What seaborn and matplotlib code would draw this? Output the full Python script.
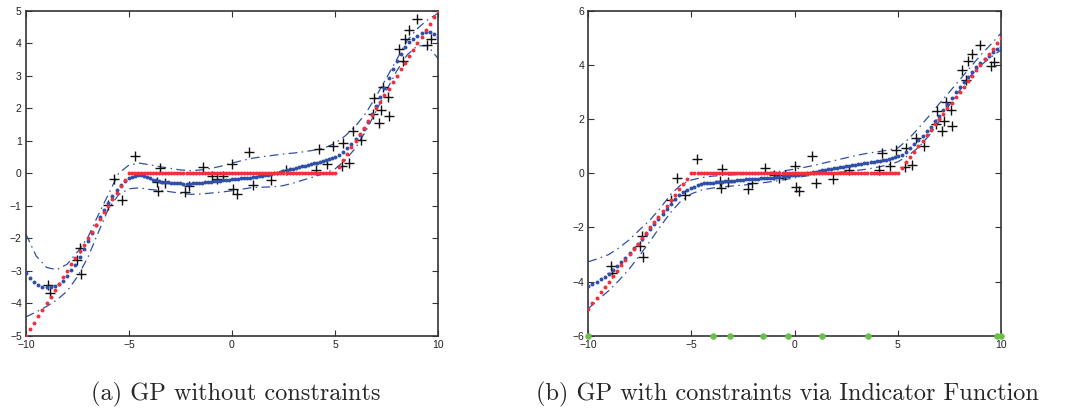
import numpy as np
import pandas as pd
import matplotlib
matplotlib.use("Agg")
import matplotlib.pyplot as plt
import seaborn as sns

# ---------------- data ----------------
# x grid of the dotted curves (denser in the flat middle part)
x_dots = np.concatenate([np.linspace(-10, -5, 26),
                         np.linspace(-5, 5, 69)[1:-1],
                         np.linspace(5, 10, 26)])

# true function (red dots)
red_left = [-5.0, -4.8, -4.6, -4.4, -4.2, -4.0, -3.8, -3.6, -3.4, -3.2, -3.0, -2.8, -2.6,
            -2.4, -2.2, -2.0, -1.8, -1.6, -1.4, -1.2, -1.0, -0.8, -0.6, -0.4, -0.2, 0.0]
red_mid = [0.0] * 67
red_right = [0.0, 0.2, 0.4, 0.6, 0.8, 1.0, 1.2, 1.4, 1.6, 1.8, 2.0, 2.2, 2.4,
             2.6, 2.8, 3.0, 3.2, 3.4, 3.6, 3.8, 4.0, 4.2, 4.4, 4.6, 4.8, 5.0]
red_true = red_left + red_mid + red_right

# GP mean without constraints (blue dots, panel a)
mean_a = [-3.07, -3.21, -3.34, -3.43, -3.49, -3.51, -3.51, -3.48, -3.41, -3.31, -3.16, -2.99, -2.81,
          -2.59, -2.34, -2.09, -1.84, -1.59, -1.35, -1.12, -0.91, -0.70, -0.51, -0.36, -0.24, -0.15,
          -0.11, -0.08, -0.06, -0.07, -0.09, -0.12, -0.16, -0.20, -0.22, -0.24, -0.26, -0.27, -0.28,
          -0.29, -0.30, -0.31, -0.31, -0.32, -0.32, -0.32, -0.31, -0.31, -0.30, -0.29, -0.28, -0.27,
          -0.26, -0.25, -0.24, -0.23, -0.22, -0.21, -0.20, -0.19, -0.18, -0.17, -0.16, -0.15, -0.15,
          -0.14, -0.13, -0.12, -0.10, -0.09, -0.07, -0.05, -0.03, 0.00, 0.02, 0.05, 0.08, 0.10,
          0.12, 0.14, 0.17, 0.19, 0.21, 0.23, 0.25, 0.28, 0.30, 0.32, 0.35, 0.37, 0.40, 0.43, 0.47,
          0.50, 0.57, 0.65, 0.77, 0.91, 1.04, 1.18, 1.35, 1.57, 1.82, 2.07, 2.34, 2.63,
          2.93, 3.20, 3.45, 3.68, 3.87, 4.04, 4.14, 4.23, 4.30, 4.33, 4.33, 4.28, 4.20]

# GP mean with constraints (blue dots, panel b)
mean_b = [-4.15, -4.09, -4.01, -3.92, -3.82, -3.71, -3.57, -3.44, -3.27, -3.12, -2.95, -2.78, -2.60,
          -2.42, -2.24, -2.06, -1.88, -1.70, -1.51, -1.32, -1.12, -0.96, -0.80, -0.70, -0.61, -0.55,
          -0.50, -0.45, -0.41, -0.38, -0.37, -0.36, -0.35, -0.34, -0.32, -0.31, -0.30, -0.29, -0.28,
          -0.27, -0.26, -0.25, -0.24, -0.23, -0.22, -0.21, -0.21, -0.20, -0.19, -0.18, -0.17, -0.17,
          -0.16, -0.15, -0.14, -0.12, -0.11, -0.09, -0.08, -0.06, -0.05, -0.03, -0.02, 0.00, 0.02,
          0.04, 0.06, 0.08, 0.10, 0.12, 0.14, 0.16, 0.18, 0.20, 0.22, 0.24, 0.26, 0.28,
          0.29, 0.31, 0.33, 0.35, 0.36, 0.38, 0.40, 0.42, 0.44, 0.46, 0.48, 0.50, 0.53, 0.56, 0.60,
          0.62, 0.69, 0.79, 0.92, 1.07, 1.22, 1.37, 1.54, 1.72, 1.92, 2.13, 2.34, 2.56,
          2.77, 2.98, 3.19, 3.38, 3.56, 3.74, 3.92, 4.07, 4.21, 4.34, 4.46, 4.57, 4.67]

# confidence band grid (dash-dot lines)
x_band = np.arange(-10, 10.01, 0.5)
upper_a = [-1.88, -2.55, -2.90, -2.97, -2.80, -2.42, -1.98, -1.30, -0.65, 0.00, 0.25, 0.31, 0.26,
           0.20, 0.15, 0.10, 0.08, 0.10, 0.15, 0.22, 0.31, 0.39, 0.46, 0.51, 0.55, 0.59, 0.62,
           0.66, 0.71, 0.78, 0.92, 1.15, 1.45, 1.85, 2.37, 2.93, 3.50, 4.08, 4.45, 4.72, 4.92]
lower_a = [-4.42, -4.27, -4.10, -3.90, -3.63, -3.18, -2.60, -1.84, -1.10, -0.66, -0.48, -0.45, -0.50,
           -0.53, -0.57, -0.62, -0.65, -0.64, -0.61, -0.58, -0.54, -0.49, -0.44, -0.43, -0.42, -0.38,
           -0.30, -0.20, -0.11, 0.00, 0.13, 0.40, 0.78, 1.30, 1.92, 2.55, 3.15, 3.64, 3.92, 3.92, 3.53]
upper_b = [-3.27, -3.15, -3.00, -2.75, -2.45, -2.08, -1.72, -1.28, -0.78, -0.42, -0.25, -0.16, -0.11,
           -0.08, -0.06, -0.05, -0.03, 0.00, 0.04, 0.09, 0.15, 0.22, 0.30, 0.39, 0.48, 0.57, 0.66,
           0.73, 0.79, 0.85, 0.93, 1.25, 1.66, 2.10, 2.56, 3.00, 3.45, 3.90, 4.35, 4.75, 5.17]
lower_b = [-5.00, -4.66, -4.33, -3.95, -3.52, -3.03, -2.50, -1.96, -1.44, -1.02, -0.76, -0.62, -0.55,
           -0.51, -0.47, -0.44, -0.40, -0.35, -0.30, -0.24, -0.17, -0.11, -0.06, -0.02, 0.02, 0.06,
           0.10, 0.15, 0.22, 0.30, 0.42, 0.65, 0.95, 1.38, 1.90, 2.52, 3.06, 3.58, 3.97, 4.28, 4.55]

# noisy observations (black crosses)
obs_x = [-8.92, -8.83, -7.38, -7.51, -7.35, -6.00, -5.71, -5.32, -4.71, -3.50, -3.63, -3.25, -3.58,
         -2.28, -2.09, -1.42, -0.99, -0.74, -0.45, 0.01, 0.06, 0.23, 0.83, 1.04, 1.88, 2.61, 4.10,
         4.24, 4.60, 4.89, 5.40, 5.35, 5.67, 5.89, 6.27, 6.83, 6.90, 7.16, 7.25, 7.32, 7.58, 7.64,
         8.11, 8.32, 8.42, 8.59, 8.97, 9.49, 9.68]
obs_y = [-3.44, -3.70, -2.31, -2.67, -3.10, -0.98, -0.18, -0.82, 0.53, 0.15, -0.28, -0.31, -0.55,
         -0.57, -0.38, 0.19, -0.08, -0.19, -0.08, 0.27, -0.50, -0.64, 0.64, -0.35, -0.21, 0.10, 0.10,
         0.74, 0.28, 0.84, 0.92, 0.23, 0.30, 1.30, 1.02, 1.81, 2.30, 1.55, 1.94, 2.64, 2.34, 1.76,
         3.81, 3.45, 4.14, 4.41, 4.74, 3.94, 4.12]

# constraint locations (green dots, panel b)
constr_x = [-10.0, -3.94, -3.13, -1.51, -0.30, 1.32, 3.53, 9.80, 10.0]

xticks = [-10, -5, 0, 5, 10]
yticks_a = [-5, -4, -3, -2, -1, 0, 1, 2, 3, 4, 5]
yticks_b = [-6, -4, -2, 0, 2, 4, 6]
captions = ["(a) GP without constraints", "(b) GP with constraints via Indicator Function"]

# ---------------- style ----------------
sns.set_style("white")
plt.rcParams["font.family"] = ["Liberation Sans", "DejaVu Sans"]
plt.rcParams["axes.unicode_minus"] = True

BLUE = "#3050a8"
RED = "#f0303c"
GREEN = "#6cc04a"
AXC = "#333333"

fig = plt.figure(figsize=(10.68, 4.13), dpi=100)
axA = fig.add_axes([0.0243, 0.1872, 0.3858, 0.7869])
axB = fig.add_axes([0.5508, 0.1872, 0.3865, 0.7869])

dash = (0, (7, 3.5, 1.2, 3.5))


def panel(ax, mean, up, lo, yt):
    dfm = pd.DataFrame({"x": x_dots, "y": mean})
    dft = pd.DataFrame({"x": x_dots, "y": red_true})
    dfb = pd.DataFrame({"x": x_band, "up": up, "lo": lo})
    dfo = pd.DataFrame({"x": obs_x, "y": obs_y})
    sns.lineplot(data=dfb, x="x", y="up", ax=ax, color=BLUE, lw=0.9, linestyle=dash, sort=True)
    sns.lineplot(data=dfb, x="x", y="lo", ax=ax, color=BLUE, lw=0.9, linestyle=dash, sort=True)
    sns.scatterplot(data=dfo, x="x", y="y", ax=ax, marker="+", color="#111111", s=50,
                    linewidth=1.0, zorder=3)
    sns.scatterplot(data=dfm, x="x", y="y", ax=ax, color=BLUE, s=8, linewidth=0, zorder=4)
    sns.scatterplot(data=dft, x="x", y="y", ax=ax, color=RED, s=8, linewidth=0, zorder=5)
    ax.set_xlim(-10, 10)
    ax.set_ylim(yt[0], yt[-1])
    ax.set_xticks(xticks)
    ax.set_yticks(yt)
    ax.set_xlabel("")
    ax.set_ylabel("")
    ax.tick_params(direction="in", length=4, width=0.8, color=AXC, labelsize=7.5,
                   labelcolor="#222222", top=True, right=True, bottom=True, left=True, pad=3)
    for s in ax.spines.values():
        s.set_visible(True)
        s.set_color(AXC)
        s.set_linewidth(1.2)


panel(axA, mean_a, upper_a, lower_a, yticks_a)
panel(axB, mean_b, upper_b, lower_b, yticks_b)

dfc = pd.DataFrame({"x": constr_x, "y": [-6.0] * len(constr_x)})
sns.scatterplot(data=dfc, x="x", y="y", ax=axB, color=GREEN, s=22, linewidth=0, zorder=6,
                clip_on=False)
axB.set_xlabel("")
axB.set_ylabel("")

fig.text(0.221, 0.044, captions[0], ha="center", va="center", fontsize=17.5, family="cmr10")
fig.text(0.737, 0.044, captions[1], ha="center", va="center", fontsize=17.5, family="cmr10")

fig.savefig("out.png", dpi=100)
